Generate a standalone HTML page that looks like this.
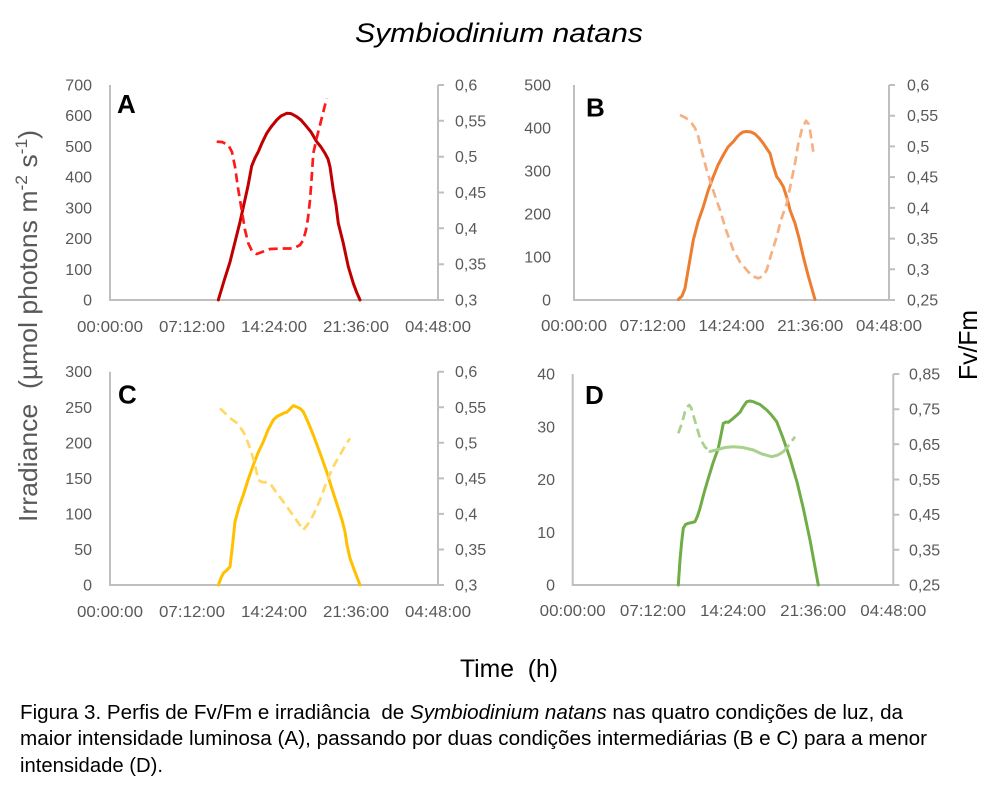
<!DOCTYPE html>
<html><head><meta charset="utf-8"><style>
html,body{margin:0;padding:0;background:#fff;}
svg{display:block;}
text{font-family:"Liberation Sans",Arial,sans-serif;}
.t{font-size:16px;fill:#595959;}
.l{text-anchor:end;}
.x{text-anchor:middle;}
.ax{stroke:#BFBFBF;stroke-width:2;fill:none;}
.pl{font-size:26px;font-weight:bold;fill:#000;}
.s{fill:none;stroke-width:3;stroke-linejoin:round;stroke-linecap:round;}
.d{fill:none;stroke-width:2.7;stroke-dasharray:9,5;stroke-linejoin:round;}
</style></head><body>
<svg width="1002" height="793" viewBox="0 0 1002 793" xmlns="http://www.w3.org/2000/svg">
<rect width="1002" height="793" fill="#fff"/>

<!-- Title -->
<text x="355" y="42" font-size="27" font-style="italic" textLength="288" lengthAdjust="spacingAndGlyphs" fill="#000">Symbiodinium natans</text>

<!-- Y label -->
<text transform="translate(37,522) rotate(-90)" font-size="26" fill="#595959" textLength="392" lengthAdjust="spacingAndGlyphs">Irradiance&#160; (µmol photons m<tspan font-size="17" dy="-10">-2</tspan><tspan dy="10"> s</tspan><tspan font-size="17" dy="-10">-1</tspan><tspan dy="10">)</tspan></text>

<!-- Fv/Fm -->
<text transform="translate(977,380) rotate(-90)" font-size="26" fill="#000" textLength="70" lengthAdjust="spacingAndGlyphs">Fv/Fm</text>

<!-- Time (h) -->
<text x="460" y="677" font-size="25" fill="#000" textLength="98" lengthAdjust="spacingAndGlyphs">Time&#160; (h)</text>

<!-- Caption -->
<text x="20" y="719" font-size="20" fill="#000" textLength="883" lengthAdjust="spacingAndGlyphs">Figura 3. Perfis de Fv/Fm e irradiância&#160; de <tspan font-style="italic">Symbiodinium natans</tspan> nas quatro condições de luz, da</text>
<text x="20" y="745" font-size="20" fill="#000" textLength="907" lengthAdjust="spacingAndGlyphs">maior intensidade luminosa (A), passando por duas condições intermediárias (B e C) para a menor</text>
<text x="20" y="772" font-size="20" fill="#000" textLength="143" lengthAdjust="spacingAndGlyphs">intensidade (D).</text>

<!-- ===== Panel A ===== -->
<path class="ax" d="M110,85 V300 H438 V85 M438,300 h6 M438,264.2 h6 M438,228.3 h6 M438,192.5 h6 M438,156.7 h6 M438,120.8 h6 M438,85 h6"/>
<g class="t l">
<text x="92" y="305.5">0</text><text x="92" y="274.8">100</text><text x="92" y="244.1">200</text><text x="92" y="213.4">300</text><text x="92" y="182.6">400</text><text x="92" y="151.9">500</text><text x="92" y="121.2">600</text><text x="92" y="90.5">700</text>
</g>
<g class="t">
<text x="455" y="305.5">0,3</text><text x="455" y="269.7">0,35</text><text x="455" y="233.8">0,4</text><text x="455" y="198">0,45</text><text x="455" y="162.2">0,5</text><text x="455" y="126.3">0,55</text><text x="455" y="90.5">0,6</text>
</g>
<g class="t">
<text x="77" y="332" textLength="66" lengthAdjust="spacingAndGlyphs">00:00:00</text>
<text x="159" y="332" textLength="66" lengthAdjust="spacingAndGlyphs">07:12:00</text>
<text x="241" y="332" textLength="66" lengthAdjust="spacingAndGlyphs">14:24:00</text>
<text x="323" y="332" textLength="66" lengthAdjust="spacingAndGlyphs">21:36:00</text>
<text x="405" y="332" textLength="66" lengthAdjust="spacingAndGlyphs">04:48:00</text>
</g>
<text class="pl" x="117" y="113">A</text>
<polyline class="s" stroke="#C00000" points="218.3,300 224,281 230,262 236,238 240,222 244,204 248,186 251.7,166 255,158 258.3,151.7 262,143 266.7,133.3 271,127 276.7,120 281,116 286.7,113.3 291,113.6 296.7,116.7 301,120 306.7,126.7 311,132 316.7,141.7 321,147 325,153.3 328,159 330,166.7 333.3,190 336,205 338.3,223.3 343.3,243.3 348.3,266.7 353.3,283.3 356.5,292 360,300"/>
<polyline class="d" stroke="#FF1A1A" points="216.7,141.7 222,142 228.3,145 232,152 235,166.7 238,188 241.7,210 245,230 248.3,243.3 252,251 256.7,254 262,252 270,249 282,248.5 293.3,248.5 300,245 303.3,240 306,230 308,218 310,200 311.5,180 313.3,153.3 316.7,138 320,125 326.7,98.3"/>

<!-- ===== Panel B ===== -->
<path class="ax" d="M574,85 V300 H889 V85 M889,300 h6 M889,269.3 h6 M889,238.6 h6 M889,207.9 h6 M889,177.1 h6 M889,146.4 h6 M889,115.7 h6 M889,85 h6"/>
<g class="t l">
<text x="551" y="305.5">0</text><text x="551" y="262.5">100</text><text x="551" y="219.5">200</text><text x="551" y="176.5">300</text><text x="551" y="133.5">400</text><text x="551" y="90.5">500</text>
</g>
<g class="t">
<text x="907" y="305.5">0,25</text><text x="907" y="274.8">0,3</text><text x="907" y="244.1">0,35</text><text x="907" y="213.4">0,4</text><text x="907" y="182.6">0,45</text><text x="907" y="151.9">0,5</text><text x="907" y="121.2">0,55</text><text x="907" y="90.5">0,6</text>
</g>
<g class="t">
<text x="541" y="331" textLength="66" lengthAdjust="spacingAndGlyphs">00:00:00</text>
<text x="619.75" y="331" textLength="66" lengthAdjust="spacingAndGlyphs">07:12:00</text>
<text x="698.5" y="331" textLength="66" lengthAdjust="spacingAndGlyphs">14:24:00</text>
<text x="777.25" y="331" textLength="66" lengthAdjust="spacingAndGlyphs">21:36:00</text>
<text x="856" y="331" textLength="66" lengthAdjust="spacingAndGlyphs">04:48:00</text>
</g>
<text class="pl" x="586" y="116.5">B</text>
<polyline class="s" stroke="#ED7D31" points="678.3,299.5 682,296 685,288.3 689,265 693.3,240 698,222 703.3,206.7 708,191 713.3,176.7 718,165 723.3,155 728,147 733.3,141.7 737,137 740,134 743,132 746.7,131.5 751,132 755,134 759,138 763.3,143.3 767,149 770,153.3 773,165 776.7,176.7 780,181 783.3,186.7 787,198 790,210 795,223.3 799,238 803.3,256.7 808,275 815,299.5"/>
<polyline class="d" stroke="#F4B183" points="680,115 686,118 691.7,123.3 695,128 698.3,136.7 702,152 706.7,170 713,190 720,210 726,230 733.3,250 740,262 746.7,270 752,276 758.3,278.3 763,276 766.7,270 771,255 776.7,236.7 781,220 786.7,203.3 791,183 795,163.3 798,145 801.7,130 806,120.7 808.5,124 810,130 813.3,151.7"/>

<!-- ===== Panel C ===== -->
<path class="ax" d="M110,371.7 V585 H438 V371.7 M438,585 h6 M438,549.45 h6 M438,513.9 h6 M438,478.35 h6 M438,442.8 h6 M438,407.25 h6 M438,371.7 h6"/>
<g class="t l">
<text x="92" y="590.5">0</text><text x="92" y="555">50</text><text x="92" y="519.4">100</text><text x="92" y="483.9">150</text><text x="92" y="448.3">200</text><text x="92" y="412.8">250</text><text x="92" y="377.2">300</text>
</g>
<g class="t">
<text x="455" y="590.5">0,3</text><text x="455" y="555">0,35</text><text x="455" y="519.4">0,4</text><text x="455" y="483.9">0,45</text><text x="455" y="448.3">0,5</text><text x="455" y="412.8">0,55</text><text x="455" y="377.2">0,6</text>
</g>
<g class="t">
<text x="77" y="617" textLength="66" lengthAdjust="spacingAndGlyphs">00:00:00</text>
<text x="159" y="617" textLength="66" lengthAdjust="spacingAndGlyphs">07:12:00</text>
<text x="241" y="617" textLength="66" lengthAdjust="spacingAndGlyphs">14:24:00</text>
<text x="323" y="617" textLength="66" lengthAdjust="spacingAndGlyphs">21:36:00</text>
<text x="405" y="617" textLength="66" lengthAdjust="spacingAndGlyphs">04:48:00</text>
</g>
<text class="pl" x="118" y="403.5">C</text>
<polyline class="s" stroke="#FFC000" points="218.3,585 221,578 223.3,573.3 227,570 230,566.7 232,550 235,521.7 239,507 243.3,495 248,480 253.3,465 258,453 263.3,441.7 268,430 273.3,420 277,416.5 280,415 284,413 286.7,412.3 290,409 293.3,405.7 297,407 300,408.5 303.3,411.7 308,422 313.3,435 320,453 326.7,471.7 332,489 338.3,508.3 342,520 345,531.7 347,545 350,558.3 355,572 360,585"/>
<polyline class="d" stroke="#FFD966" points="220,408.3 230,418 237,423 243.3,431.7 247,440 250,448.3 253,458 255,465 257,474 258.3,480 262,482 267,482.5 270,483.3 276,492 283.3,501.7 290,511 297,521 303.3,530 308,524 313.3,515 320,500 326.7,481.7 333,467 340,455 345,446 350,438.3"/>

<!-- ===== Panel D ===== -->
<path class="ax" d="M572.7,374 V585 H893.3 V374 M893.3,585 h6 M893.3,549.8 h6 M893.3,514.7 h6 M893.3,479.5 h6 M893.3,444.3 h6 M893.3,409.2 h6 M893.3,374 h6"/>
<g class="t l">
<text x="555" y="590.5">0</text><text x="555" y="537.8">10</text><text x="555" y="485">20</text><text x="555" y="432.3">30</text><text x="555" y="379.5">40</text>
</g>
<g class="t">
<text x="909" y="590.5">0,25</text><text x="909" y="555.3">0,35</text><text x="909" y="520.2">0,45</text><text x="909" y="485">0,55</text><text x="909" y="449.8">0,65</text><text x="909" y="414.7">0,75</text><text x="909" y="379.5">0,85</text>
</g>
<g class="t">
<text x="539.7" y="616" textLength="66" lengthAdjust="spacingAndGlyphs">00:00:00</text>
<text x="619.9" y="616" textLength="66" lengthAdjust="spacingAndGlyphs">07:12:00</text>
<text x="700" y="616" textLength="66" lengthAdjust="spacingAndGlyphs">14:24:00</text>
<text x="780.2" y="616" textLength="66" lengthAdjust="spacingAndGlyphs">21:36:00</text>
<text x="860.3" y="616" textLength="66" lengthAdjust="spacingAndGlyphs">04:48:00</text>
</g>
<text class="pl" x="585" y="404">D</text>
<polyline class="s" stroke="#70AD47" points="678.3,585 680,560 681.7,541.7 683.3,528.3 685.5,524.5 688.3,523.3 692,522.5 695,521.7 697.5,516 700,508.3 704,493 708.3,478.3 713,463 718.3,448.3 721,435 723.3,423.3 726,422 728.3,422.3 733.3,418.3 737,415 740,412.3 743,407 746.7,401.7 750,401 753.3,401.7 760,404.5 766.7,410 771,414.5 776.7,421.7 783,438 790,458.3 797,482 803.3,508.3 810,540 818.3,585"/>
<polyline class="d" stroke="#A9D18E" points="678.3,433.3 682,423 685,411.7 687,407 689.3,405 691.3,408 693.3,415 697,428 700,438.3 705,447 710,451.5"/>
<polyline class="s" stroke="#A9D18E" stroke-width="2.7" points="710,451.5 716,450 725,447.5 733.3,446.7 743,447.5 753.3,450 762,454 771.7,456.7 778,455 783.3,451.7"/>
<polyline class="d" stroke="#A9D18E" points="783.3,451.7 789,445 795,436.7"/>
</svg>
</body></html>
